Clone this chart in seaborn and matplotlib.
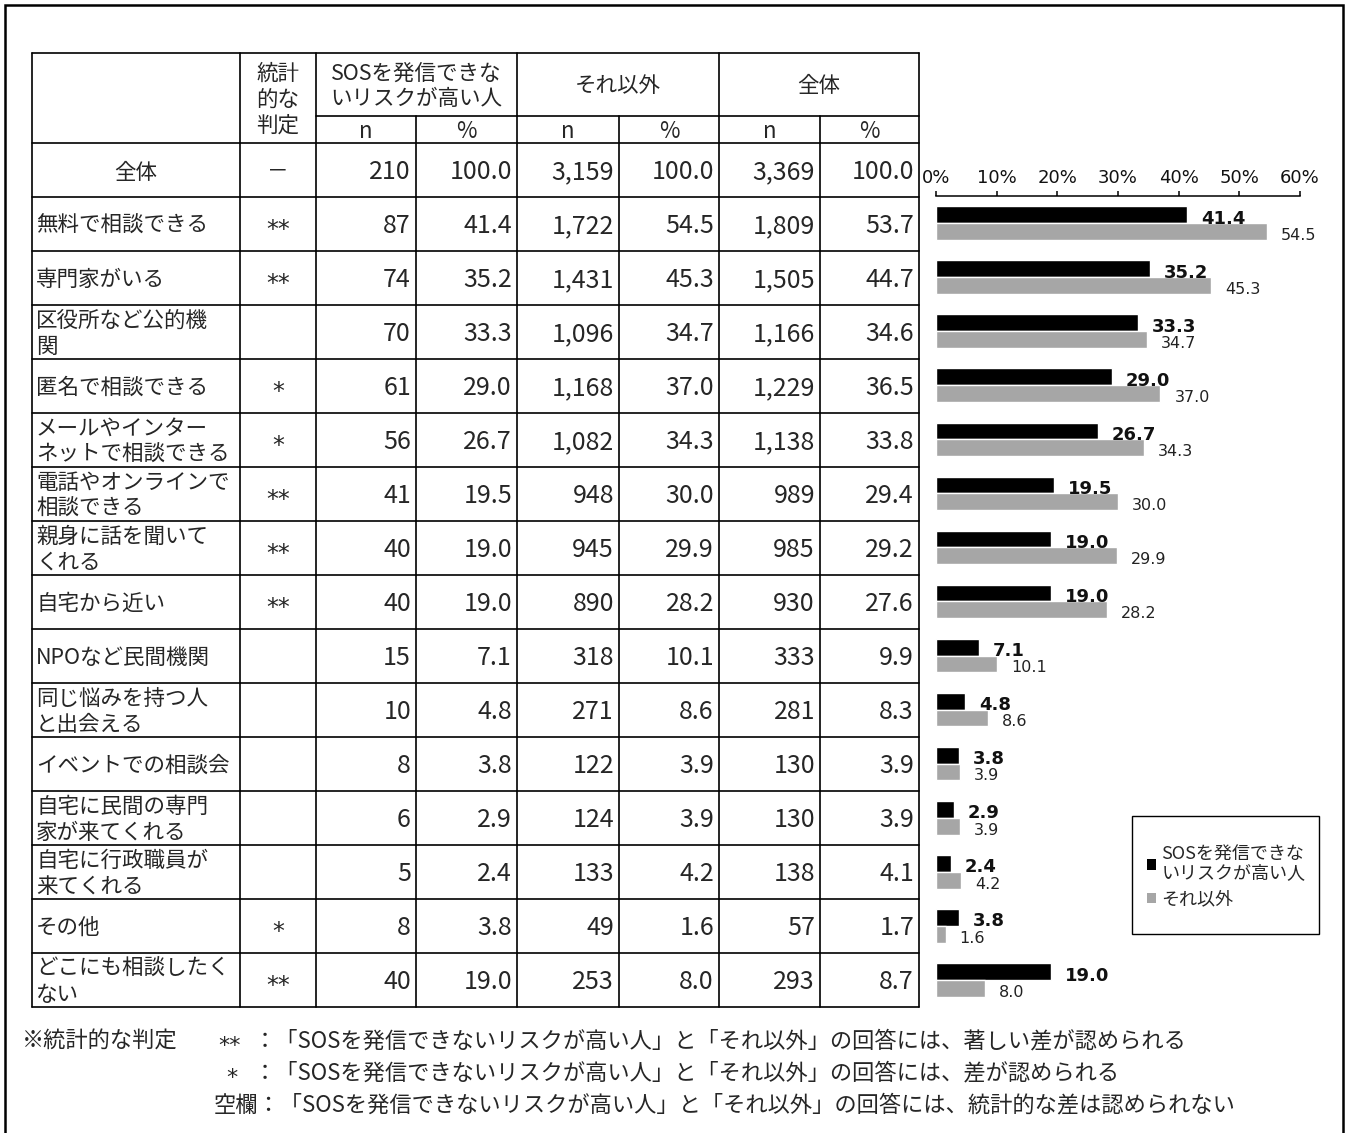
import matplotlib
matplotlib.use("Agg")
import matplotlib.pyplot as plt
import numpy as np
import pandas as pd
import seaborn as sns
from matplotlib.patches import Patch, Rectangle

# ---------------- data ----------------
categories = [
    "無料で相談できる", "専門家がいる", "区役所など公的機\n関", "匿名で相談できる",
    "メールやインター\nネットで相談できる", "電話やオンラインで\n相談できる",
    "親身に話を聞いて\nくれる", "自宅から近い", "NPOなど民間機関",
    "同じ悩みを持つ人\nと出会える", "イベントでの相談会", "自宅に民間の専門\n家が来てくれる",
    "自宅に行政職員が\n来てくれる", "その他", "どこにも相談したく\nない",
]
judgement = ["**", "**", "", "*", "*", "**", "**", "**", "", "", "", "", "", "*", "**"]
sos_n = [87, 74, 70, 61, 56, 41, 40, 40, 15, 10, 8, 6, 5, 8, 40]
sos_pct = [41.4, 35.2, 33.3, 29.0, 26.7, 19.5, 19.0, 19.0, 7.1, 4.8, 3.8, 2.9, 2.4, 3.8, 19.0]
other_n = [1722, 1431, 1096, 1168, 1082, 948, 945, 890, 318, 271, 122, 124, 133, 49, 253]
other_pct = [54.5, 45.3, 34.7, 37.0, 34.3, 30.0, 29.9, 28.2, 10.1, 8.6, 3.9, 3.9, 4.2, 1.6, 8.0]
total_n = [1809, 1505, 1166, 1229, 1138, 989, 985, 930, 333, 281, 130, 130, 138, 57, 293]
total_pct = [53.7, 44.7, 34.6, 36.5, 33.8, 29.4, 29.2, 27.6, 9.9, 8.3, 3.9, 3.9, 4.1, 1.7, 8.7]
base_row = ["全体", "－", 210, 100.0, 3159, 100.0, 3369, 100.0]
group_names = ["SOSを発信できないリスクが高い人", "それ以外"]
legend_labels = ["SOSを発信できな\nいリスクが高い人", "それ以外"]
header_groups = ["SOSを発信できな\nいリスクが高い人", "それ以外", "全体"]
judge_header = "統計\n的な\n判定"
x_ticks = [0, 10, 20, 30, 40, 50, 60]
footnotes = [
    ("※統計的な判定", "**", "：「SOSを発信できないリスクが高い人」と「それ以外」の回答には、著しい差が認められる"),
    ("", "*", "：「SOSを発信できないリスクが高い人」と「それ以外」の回答には、差が認められる"),
    ("", "空欄", "：「SOSを発信できないリスクが高い人」と「それ以外」の回答には、統計的な差は認められない"),
]
colors = ["#000000", "#A6A6A6"]

# ---------------- setup ----------------
sns.set_theme(style="white")
plt.rcParams["font.family"] = ["Noto Sans CJK JP", "DejaVu Sans"]

W, H = 1349, 1133
fig = plt.figure(figsize=(W / 100, H / 100), dpi=100)
fig.patch.set_facecolor("white")

ov = fig.add_axes([0, 0, 1, 1])
ov.set_xlim(0, W)
ov.set_ylim(H, 0)
ov.axis("off")

LW = 1.2
# outer border (open at bottom)
ov.plot([5, 5, 1343, 1343], [H, 5, 5, H], color="black", lw=1.8, solid_joinstyle="miter")

# table geometry
cols = [32, 240, 316, 416, 517, 619, 719, 820, 919]
top, sub, hdr = 53, 116, 143
row_h = 54
nrows = len(categories) + 1
row_edges = [hdr + row_h * k for k in range(nrows + 1)]
bottom = row_edges[-1]

ov.plot([cols[0], cols[-1]], [top, top], color="black", lw=LW)
for y in row_edges:
    ov.plot([cols[0], cols[-1]], [y, y], color="black", lw=LW)
ov.plot([cols[2], cols[-1]], [sub, sub], color="black", lw=LW)
for i, x in enumerate(cols):
    y0 = sub if i in (3, 5, 7) else top
    ov.plot([x, x], [y0, bottom], color="black", lw=LW)

FS_LAB = 15.5
FS_NUM = 18

# header text
ov.text((cols[1] + cols[2]) / 2, 100, judge_header, ha="center", va="center",
        fontsize=FS_LAB, linespacing=1.22)
for g, (a, b) in enumerate([(cols[2], cols[4]), (cols[4], cols[6]), (cols[6], cols[8])]):
    ov.text((a + b) / 2, 86, header_groups[g], ha="center", va="center",
            fontsize=FS_LAB, linespacing=1.2)
for k in range(2, 8):
    ov.text((cols[k] + cols[k + 1]) / 2, 131, "n" if k % 2 == 0 else "%",
            ha="center", va="center", fontsize=FS_LAB + 0.5)


def fmt_n(v):
    return f"{v:,}"


def fmt_p(v):
    return f"{v:.1f}"


def draw_row(r, label, judge, vals, label_center=False):
    yc = (row_edges[r] + row_edges[r + 1]) / 2
    if label_center:
        ov.text((cols[0] + cols[1]) / 2, yc + 3, label, ha="center", va="center", fontsize=FS_LAB)
        ov.text((cols[1] + cols[2]) / 2, yc + 2, judge, ha="center", va="center", fontsize=FS_LAB)
    else:
        ov.text(cols[0] + 4, yc + 2, label, ha="left", va="center", fontsize=FS_LAB,
                linespacing=1.22)
        ov.text((cols[1] + cols[2]) / 2, yc + 6, judge, ha="center", va="center",
                fontsize=17, family="DejaVu Sans")
    for j, v in enumerate(vals):
        s = fmt_n(v) if j % 2 == 0 else fmt_p(v)
        ov.text(cols[j + 3] - 5, yc + 2, s, ha="right", va="center", fontsize=FS_NUM)


draw_row(0, base_row[0], base_row[1], base_row[2:], label_center=True)
for i, cat in enumerate(categories):
    draw_row(i + 1, cat, judgement[i],
             [sos_n[i], sos_pct[i], other_n[i], other_pct[i], total_n[i], total_pct[i]])

# footnotes
foot_y = [1041, 1073, 1105]
for (a, b, c), y in zip(footnotes, foot_y):
    if a:
        ov.text(22, y, a, ha="left", va="center", fontsize=16)
    if b == "空欄":
        ov.text(214, y, b + c, ha="left", va="center", fontsize=16)
    else:
        ov.text(218 if b == "**" else 226, y + 5, b, ha="left", va="center", fontsize=16,
                family="DejaVu Sans")
        ov.text(254, y, c, ha="left", va="center", fontsize=16)

# ---------------- bar chart ----------------
df = pd.DataFrame({
    "item": categories * 2,
    "group": [group_names[0]] * len(categories) + [group_names[1]] * len(categories),
    "pct": sos_pct + other_pct,
})

x0, x1 = 936, 1300
ya, yb = row_edges[1] - 1, row_edges[-1]
ax = fig.add_axes([x0 / W, 1 - yb / H, (x1 - x0) / W, (yb - ya) / H])
ax.patch.set_alpha(0)
sns.barplot(data=df, y="item", x="pct", hue="group", hue_order=group_names,
            palette=colors, saturation=1, width=0.62, orient="h", ax=ax,
            legend=False, errorbar=None)
ax.set_xlim(0, 60)
ax.set_ylim(len(categories) - 0.5, -0.5)
ax.set_xticks(x_ticks)
ax.set_xticklabels([f"{t}%" for t in x_ticks], family="DejaVu Sans")
ax.xaxis.tick_top()
ax.tick_params(axis="x", top=True, bottom=False, labeltop=True, labelbottom=False,
               direction="out", length=3.5, width=1.1, color="black", labelsize=13,
               pad=3, labelcolor="#111111")
ax.set_yticks([])
ax.set_xlabel("")
ax.set_ylabel("")
for s in ["left", "right", "bottom"]:
    ax.spines[s].set_visible(False)
ax.spines["top"].set_color("black")
ax.spines["top"].set_linewidth(1.1)

off = 2.3
for i in range(len(categories)):
    ax.text(sos_pct[i] + off, i + 0.01, f"{sos_pct[i]:.1f}", ha="left", va="baseline",
            fontsize=13, fontweight="bold", family="DejaVu Sans", color="#111111")
    ax.text(other_pct[i] + off, i + 0.31, f"{other_pct[i]:.1f}", ha="left", va="baseline",
            fontsize=11.5, family="DejaVu Sans", color="#222222")

# legend
handles = [Patch(facecolor=c, edgecolor="none") for c in colors]
leg = ax.legend(handles, legend_labels, loc="center",
                bbox_to_anchor=(1226 / W, 1 - 877 / H), bbox_transform=fig.transFigure,
                frameon=False, fontsize=13, handlelength=0.5, handleheight=0.5,
                handletextpad=0.3, labelspacing=0.45)
for txt in leg.get_texts():
    txt.set_linespacing(1.05)
ov.add_patch(Rectangle((1132, 816), 187, 118, fill=False, edgecolor="black", lw=1.0))

fig.savefig("out.png", dpi=100, facecolor="white")
